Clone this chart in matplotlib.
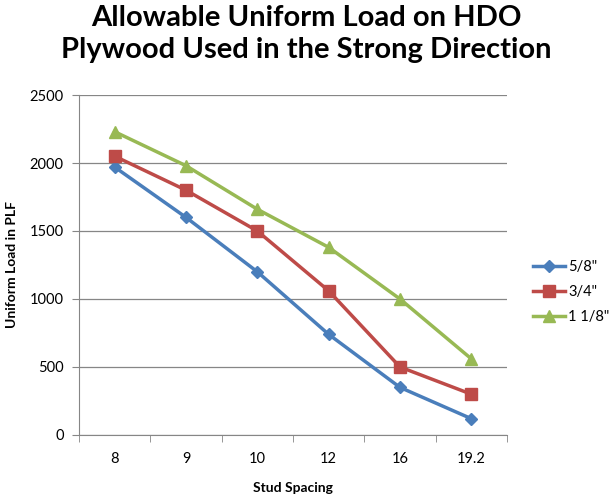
import matplotlib.pyplot as plt
import numpy as np

spacing = ['8', '9', '10', '12', '16', '19.2']
series_names = ['5/8"', '3/4"', '1 1/8"']
load_58 = [1970, 1600, 1200, 740, 350, 120]
load_34 = [2050, 1800, 1500, 1060, 500, 300]
load_118 = [2230, 1980, 1660, 1380, 1000, 560]

colors = ['#4a7ebb', '#be4b48', '#98b954']
markers = ['D', 's', '^']
msizes = [6, 9, 9]

plt.rcParams['font.family'] = ['Lato', 'DejaVu Sans']

fig = plt.figure(figsize=(6.13, 4.96), dpi=100)
ax = fig.add_axes([79/613, 61/496, 428/613, 340/496])

x = np.arange(len(spacing))
for vals, name, c, m, ms in zip([load_58, load_34, load_118], series_names, colors, markers, msizes):
    ax.plot(x, vals, color=c, marker=m, markersize=ms, linewidth=2.5, label=name)

ax.set_xlim(-0.5, len(spacing) - 0.5)
ax.set_ylim(0, 2500)
ax.set_yticks(range(0, 2501, 500))
ax.set_xticks(x)
ax.set_xticklabels(spacing)
ax.set_xticks(np.arange(-0.5, len(spacing), 1), minor=True)
ax.tick_params(axis='x', which='major', length=0, pad=12, labelsize=10.5)
ax.tick_params(axis='x', which='minor', length=5, color='#868686', direction='out')
ax.tick_params(axis='y', length=5, color='#868686', direction='out', labelsize=10.5, pad=6)
ax.yaxis.grid(True, color='#868686', linewidth=0.9)
ax.set_axisbelow(True)
for s in ['top', 'right']:
    ax.spines[s].set_visible(False)
for s in ['left', 'bottom']:
    ax.spines[s].set_color('#868686')

ax.set_xlabel('Stud Spacing', fontweight='bold', fontsize=10, labelpad=12)
ax.set_ylabel('Uniform Load in PLF', fontweight='bold', fontsize=10, labelpad=8)

fig.suptitle('Allowable Uniform Load on HDO\nPlywood Used in the Strong Direction',
             fontweight='bold', fontsize=21, y=0.99, x=0.5, linespacing=1.3)

ax.legend(loc='center left', bbox_to_anchor=(1.03, 0.42), frameon=False,
          fontsize=10.5, handlelength=2.2, handletextpad=0.2, labelspacing=0.75)

fig.savefig('out.png', dpi=100)
